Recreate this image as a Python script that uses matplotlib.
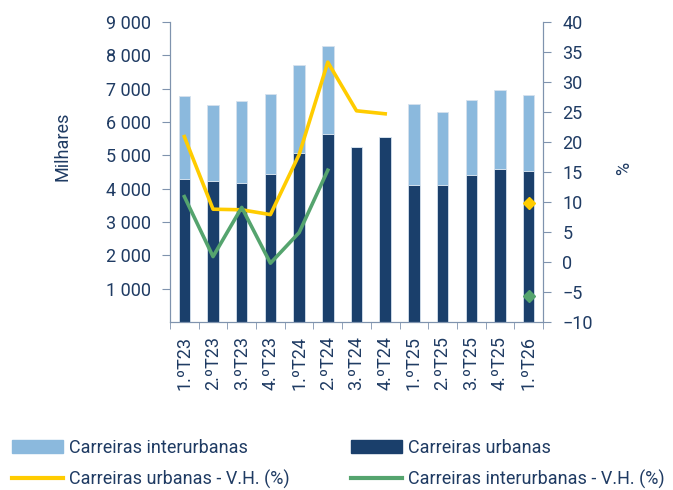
import matplotlib.pyplot as plt
import numpy as np
from matplotlib.patches import Patch
from matplotlib.lines import Line2D

plt.rcParams['font.family'] = ['Roboto', 'DejaVu Sans']

trimestres = ['1.ºT23', '2.ºT23', '3.ºT23', '4.ºT23', '1.ºT24', '2.ºT24', '3.ºT24',
              '4.ºT24', '1.ºT25', '2.ºT25', '3.ºT25', '4.ºT25', '1.ºT26']
urbanas = [4290, 4230, 4170, 4430, 5070, 5640, 5250, 5540, 4110, 4100, 4400, 4580, 4530]
interurbanas = [2490, 2290, 2450, 2400, 2630, 2640, 0, 0, 2430, 2200, 2260, 2380, 2280]
vh_urbanas = [20.9, 8.8, 8.7, 7.9, 17.9, 33.3, 25.2, 24.7, None, None, None, None, 9.8]
vh_interurbanas = [10.9, 0.9, 9.1, -0.2, 4.9, 15.3, None, None, None, None, None, None, -5.7]

c_claro = '#8BB9DD'
c_escuro = '#1A3F6B'
c_amarelo = '#FFCC00'
c_verde = '#55A46E'
c_texto = '#1F3B63'
c_eixo = '#7F93AE'
fs = 13

fig = plt.figure(figsize=(6.73, 4.90), dpi=100)
ax = fig.add_axes([170/673, 1-322/490, 373/673, 300/490])
ax2 = ax.twinx()

x = np.arange(len(trimestres))
ax.bar(x, urbanas, width=0.4, color=c_escuro, edgecolor='#D6E2EE', linewidth=0.6, zorder=2)
ax.bar(x, interurbanas, width=0.4, bottom=urbanas, color=c_claro, edgecolor='#D6E2EE',
       linewidth=0.6, zorder=2)

# linhas so nos trimestres seguidos, o ultimo como marcador
yu = np.array([np.nan if v is None else v for v in vh_urbanas])
yi = np.array([np.nan if v is None else v for v in vh_interurbanas])
ax2.plot(x[:-1], yu[:-1], color=c_amarelo, lw=2.6, zorder=3)
ax2.plot(x[:-1], yi[:-1], color=c_verde, lw=2.6, zorder=3)
ax2.plot(x[-1], yu[-1], marker='D', ms=6, color=c_amarelo, ls='none')
ax2.plot(x[-1], yi[-1], marker='D', ms=6, color=c_verde, ls='none')

ax.set_xlim(-0.5, len(trimestres) - 0.5)
ax.set_ylim(0, 9000)
ax.set_yticks(np.arange(1000, 9001, 1000))
ax.set_yticklabels(['{:,}'.format(v).replace(',', ' ') for v in range(1000, 9001, 1000)])
ax2.set_ylim(-10, 40)
ax2.set_yticks(np.arange(-10, 41, 5))

ax.set_xticks(x)
ax.set_xticklabels(trimestres, rotation=90)
ax.set_xticks(np.arange(-0.5, len(trimestres)), minor=True)

for a in (ax, ax2):
    a.tick_params(axis='y', length=6, color=c_eixo, colors=c_texto, labelsize=fs, pad=8)
    for s in a.spines.values():
        s.set_color(c_eixo)
    a.spines['top'].set_visible(False)
ax.tick_params(axis='x', which='major', length=0, pad=10, colors=c_texto, labelsize=fs)
ax.tick_params(axis='x', which='minor', length=5, color=c_eixo)

ax.set_ylabel('Milhares', color=c_texto, fontsize=fs)
ax.yaxis.set_label_coords(-0.265, 0.587)
ax2.set_ylabel('%', color=c_texto, fontsize=fs)
ax2.yaxis.set_label_coords(1.193, 0.513)

handles = [Patch(color=c_claro), Line2D([], [], color=c_amarelo, lw=3),
           Patch(color=c_escuro), Line2D([], [], color=c_verde, lw=3)]
labels = ['Carreiras interurbanas', 'Carreiras urbanas - V.H. (%)',
          'Carreiras urbanas', 'Carreiras interurbanas - V.H. (%)']
fig.legend(handles, labels, ncol=2, loc='center left', bbox_to_anchor=(12/673, 1-464/490),
           frameon=False, fontsize=fs, labelcolor=c_texto, handlelength=2.85,
           handleheight=0.75, columnspacing=3.4, handletextpad=0.3, labelspacing=0.7,
           borderpad=0, borderaxespad=0)

fig.savefig('out.png', dpi=100)
